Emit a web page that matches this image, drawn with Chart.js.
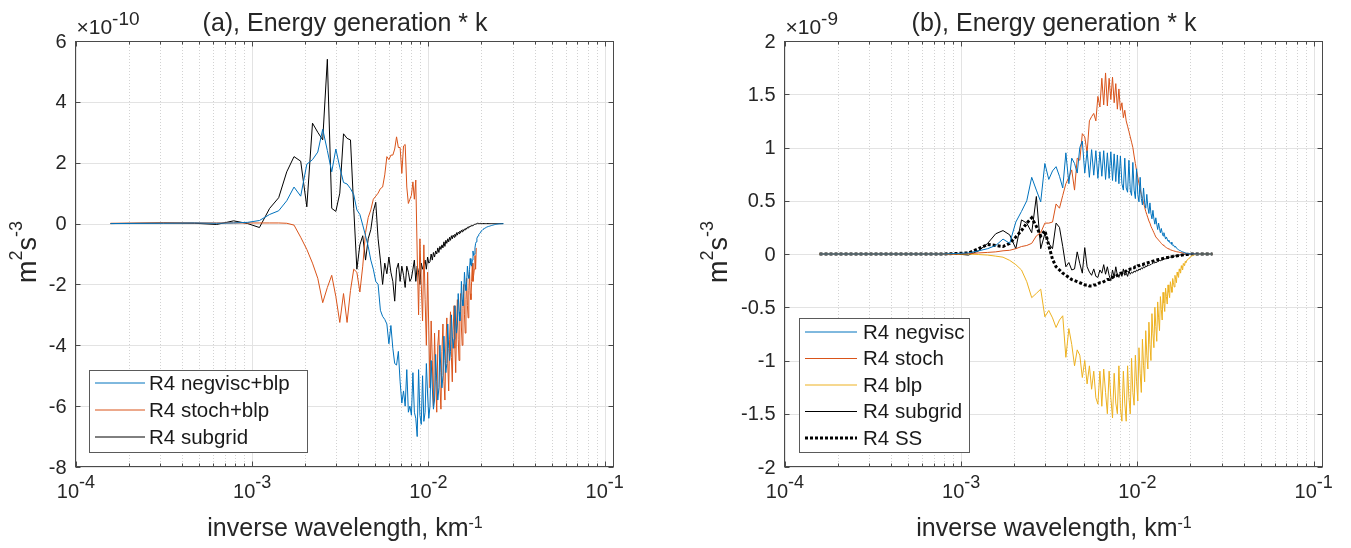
<!DOCTYPE html>
<html lang="en">
<head>
<meta charset="UTF-8">
<title>Energy generation * k</title>
<script src="https://cdn.jsdelivr.net/npm/chart.js"></script>
<style>
  body { margin: 0; background: #fff; }
  #wrap { position: relative; width: 1351px; height: 548px; }
  canvas { position: absolute; top: 0; }
</style>
</head>
<body>
<div id="wrap">
  <canvas id="chartA" width="690" height="548" style="left:0"></canvas>
  <canvas id="chartB" width="661" height="548" style="left:690px"></canvas>
</div>
<script>
// inverse wavelength of each spectral bin, in units of 1e-4 km^-1
const wavenumber = [
  1.57, 3.14, 4.71, 6.28, 7.85, 9.42, 10.99, 12.56, 14.13, 15.70,
  17.27, 18.84, 20.41, 21.98, 23.55, 25.12, 26.69, 28.26, 29.83, 31.40,
  32.97, 34.54, 36.11, 37.68, 39.25, 40.82, 42.39, 43.96, 45.53, 47.10,
  48.67, 50.24, 51.81, 53.38, 54.95, 56.52, 58.09, 59.66, 61.23, 62.80,
  64.37, 65.94, 67.51, 69.08, 70.65, 72.22, 73.79, 75.36, 76.93, 78.50,
  80.07, 81.64, 83.21, 84.78, 86.35, 87.92, 89.49, 91.06, 92.63, 94.20,
  95.77, 97.34, 98.91, 100.48, 102.05, 103.62, 105.19, 106.76, 108.33, 109.90,
  111.47, 113.04, 114.61, 116.18, 117.75, 119.32, 120.89, 122.46, 124.03, 125.60,
  127.17, 128.74, 130.31, 131.88, 133.45, 135.02, 136.59, 138.16, 139.73, 141.30,
  142.87, 144.44, 146.01, 147.58, 149.15, 150.72, 152.29, 153.86, 155.43, 157.00,
  158.57, 160.14, 161.71, 163.28, 164.85, 166.42, 167.99, 169.56, 171.13, 172.70,
  174.27, 175.84, 177.41, 178.98, 180.55, 182.12, 183.69, 185.26, 186.83, 188.40,
  189.97, 191.54, 193.11, 194.68, 196.25, 197.82, 199.39, 200.96, 202.53, 204.10,
  205.67, 207.24, 208.81, 210.38, 211.95, 213.52, 215.09, 216.66, 218.23, 219.80,
  221.37, 222.94, 224.51, 226.08, 227.65, 229.22, 230.79, 232.36, 233.93, 235.50,
  237.07, 238.64, 240.21, 241.78, 243.35, 244.92, 246.49, 248.06, 249.63, 251.20,
  252.77, 254.34, 255.91, 257.48, 259.05, 260.62, 262.19, 263.76, 265.33, 266.90
];

// (a) values in units of 1e-10 m^2 s^-3
const negviscBlpA = [
  0.00, 0.01, 0.02, 0.01, 0.02, 0.04, 0.10, 0.30, 0.42, 0.75,
  1.20, 0.90, 1.95, 2.10, 2.35, 3.10, 2.40, 1.70, 2.45, 1.85,
  1.35, 1.30, 1.15, 0.95, 0.45, 0.30, -0.05, -0.40, -0.75, -1.20,
  -1.50, -1.90, -2.00, -2.85, -3.05, -3.15, -3.30, -3.95, -3.35, -4.10,
  -4.60, -4.65, -4.20, -5.20, -5.90, -5.50, -6.00, -4.80, -6.20, -6.00,
  -6.30, -4.90, -6.20, -6.40, -7.00, -4.80, -6.30, -6.60, -5.00, -6.50,
  -6.20, -4.60, -5.60, -6.40, -6.00, -4.50, -5.40, -6.10, -5.80, -4.30,
  -5.20, -5.80, -5.40, -4.00, -4.90, -5.40, -5.00, -3.70, -4.50, -4.90,
  -4.60, -3.30, -4.10, -4.50, -4.20, -3.00, -3.70, -4.10, -3.80, -2.70,
  -3.30, -3.60, -3.30, -2.30, -2.90, -3.20, -2.90, -1.90, -2.50, -2.70,
  -2.30, -1.60, -2.00, -2.20, -1.90, -1.40, -1.70, -1.80, -1.50, -1.15,
  -1.35, -1.40, -1.20, -0.90, -1.05, -1.00, -0.80, -0.65, -0.60, -0.48,
  -0.44, -0.40, -0.36, -0.33, -0.30, -0.27, -0.25, -0.23, -0.21, -0.19,
  -0.17, -0.16, -0.15, -0.14, -0.13, -0.12, -0.11, -0.10, -0.095, -0.09,
  -0.085, -0.08, -0.075, -0.07, -0.065, -0.06, -0.055, -0.05, -0.045, -0.04,
  -0.036, -0.033, -0.03, -0.027, -0.024, -0.021, -0.018, -0.016, -0.014, -0.012,
  -0.01, -0.009, -0.008, -0.007, -0.006, -0.005, -0.004, -0.003, -0.002, -0.001
];
const stochBlpA = [
  0.01, 0.02, 0.02, 0.02, 0.02, 0.02, 0.02, 0.02, 0.02, 0.01,
  -0.05, -0.45, -0.85, -1.30, -1.80, -2.60, -2.10, -1.70, -2.40, -3.25,
  -2.30, -3.25, -2.20, -1.50, -1.60, -2.25, -1.40, -0.30, 0.20, 0.45,
  0.80, 0.90, 1.00, 1.15, 1.20, 1.60, 2.20, 2.10, 2.25, 2.25,
  2.45, 2.85, 2.50, 2.50, 1.65, 2.55, 2.60, 1.20, 0.66, 0.80,
  0.93, 1.37, 0.80, 1.43, -1.00, -3.00, -0.50, -2.00, -3.20, -0.70,
  -2.50, -4.00, -1.60, -3.50, -5.40, -3.20, -4.50, -6.00, -3.60, -5.00,
  -6.20, -4.00, -3.50, -5.30, -6.10, -4.20, -3.30, -5.20, -5.80, -4.00,
  -3.10, -4.60, -5.50, -3.80, -2.90, -4.40, -5.20, -3.50, -2.70, -4.10,
  -4.90, -3.30, -2.50, -3.80, -4.50, -3.00, -2.30, -3.40, -4.00, -2.80,
  -2.00, -3.00, -3.60, -2.50, -1.80, -2.70, -3.10, -2.20, -1.60, -2.30,
  -2.50, -1.90, -1.30, -1.90, -1.70, -1.50, -1.05, -1.50, -0.80
];
const subgridA = [
  0.00, 0.02, 0.01, -0.03, 0.09, 0.00, -0.13, 0.50, 0.85, 1.70,
  2.20, 2.05, 0.55, 3.30, 3.00, 2.75, 5.40, 0.50, 0.40, 1.00,
  2.95, 2.80, 2.75, 0.50, -1.50, -0.70, -0.40, -1.20, -0.50, -0.20,
  0.40, 0.70, -0.50, -1.20, -2.00, -1.30, -1.65, -1.10, -1.60, -1.90,
  -2.55, -1.50, -1.30, -1.90, -1.40, -1.70, -2.10, -1.40, -1.60, -1.90,
  -1.80, -1.50, -1.20, -1.90, -1.40, -1.60, -2.00, -1.30, -1.50, -1.35,
  -1.20, -1.50, -1.10, -1.30, -1.25, -1.00, -1.20, -0.95, -1.10, -0.90,
  -1.00, -0.80, -0.95, -0.75, -0.85, -0.70, -0.80, -0.60, -0.75, -0.55,
  -0.65, -0.50, -0.60, -0.45, -0.55, -0.40, -0.50, -0.38, -0.45, -0.35,
  -0.42, -0.30, -0.38, -0.28, -0.33, -0.25, -0.30, -0.22, -0.27, -0.20,
  -0.24, -0.18, -0.20, -0.15, -0.18, -0.12, -0.14, -0.10, -0.11, -0.08,
  -0.09, -0.06, -0.07, -0.05, -0.05, -0.03, -0.03, -0.02, -0.01, 0.00,
  0.01, 0.00, 0.01, 0.00, 0.00, 0.01, 0.00, 0.00, 0.00, 0.00,
  0, 0, 0, 0, 0, 0, 0, 0, 0, 0,
  0, 0, 0, 0, 0, 0, 0, 0, 0, 0,
  0, 0, 0, 0, 0, 0, 0, 0, 0, 0,
  0, 0, 0, 0, 0, 0, 0, 0, 0, 0
];

// (b) values in units of 1e-9 m^2 s^-3
const negviscB = [
  0, 0, 0, 0, 0, 0.005, 0.01, 0.03, 0.05, 0.08,
  0.14, 0.10, 0.30, 0.40, 0.50, 0.72, 0.60, 0.49, 0.85, 0.70,
  0.78, 0.82, 0.73, 0.62, 0.95, 0.66, 0.90, 0.85, 0.76, 1.00,
  1.06, 0.76, 0.97, 0.72, 0.98, 0.74, 0.97, 0.71, 0.96, 0.73,
  0.97, 0.70, 0.95, 0.71, 0.96, 0.69, 0.94, 0.68, 0.93, 0.66,
  0.92, 0.66, 0.60, 0.90, 0.62, 0.58, 0.88, 0.60, 0.55, 0.86,
  0.60, 0.52, 0.80, 0.56, 0.49, 0.72, 0.52, 0.46, 0.62, 0.48,
  0.43, 0.56, 0.44, 0.38, 0.48, 0.38, 0.33, 0.41, 0.33, 0.28,
  0.34, 0.28, 0.23, 0.29, 0.24, 0.20, 0.24, 0.20, 0.17, 0.20,
  0.17, 0.14, 0.16, 0.14, 0.12, 0.13, 0.11, 0.10, 0.11, 0.09,
  0.08, 0.085, 0.07, 0.065, 0.07, 0.055, 0.05, 0.05, 0.04, 0.035,
  0.035, 0.03, 0.025, 0.025, 0.02, 0.018, 0.015, 0.013, 0.01, 0.008,
  0.007, 0.006, 0.005, 0.004, 0.003, 0.003, 0.002, 0.002, 0.001, 0.001,
  0, 0, 0, 0, 0, 0, 0, 0, 0, 0,
  0, 0, 0, 0, 0, 0, 0, 0, 0, 0,
  0, 0, 0, 0, 0, 0, 0, 0, 0, 0,
  0, 0, 0, 0, 0, 0, 0, 0, 0, 0
];
const stochB = [
  0, 0, 0, 0, 0, 0, 0.005, 0.01, 0.015, 0.02,
  0.03, 0.035, 0.05, 0.07, 0.08, 0.10, 0.17, 0.20, 0.29, 0.29,
  0.30, 0.47, 0.43, 0.55, 0.66, 0.72, 0.79, 0.60, 0.90, 0.88,
  1.13, 1.10, 0.95, 1.25, 1.29, 1.32, 1.25, 1.48, 1.38, 1.65,
  1.40, 1.70, 1.39, 1.65, 1.45, 1.66, 1.42, 1.60, 1.36, 1.55,
  1.35, 1.42, 1.28, 1.35, 1.25, 1.20, 1.15, 1.10, 1.05, 1.00,
  0.92, 0.85, 0.78, 0.72, 0.66, 0.61, 0.56, 0.52, 0.48, 0.44,
  0.40, 0.37, 0.34, 0.31, 0.29, 0.26, 0.24, 0.22, 0.20, 0.18,
  0.16, 0.15, 0.14, 0.13, 0.12, 0.11, 0.10, 0.09, 0.085, 0.08,
  0.07, 0.065, 0.06, 0.055, 0.05, 0.047, 0.044, 0.04, 0.037, 0.035,
  0.032, 0.03, 0.028, 0.026, 0.024, 0.022, 0.02, 0.019, 0.018, 0.017,
  0.015, 0.014, 0.013, 0.012, 0.011, 0.01, 0.009, 0.008, 0.007, 0.006,
  0.005, 0.005, 0.004, 0.004, 0.003, 0.003, 0.002, 0.002, 0.001, 0.001,
  0, 0, 0, 0, 0, 0, 0, 0, 0, 0,
  0, 0, 0, 0, 0, 0, 0, 0, 0, 0,
  0, 0, 0, 0, 0, 0, 0, 0, 0, 0,
  0, 0, 0, 0, 0, 0, 0, 0, 0, 0
];
const blpB = [
  0, 0, 0, 0, 0, 0, 0, -0.005, -0.01, -0.02,
  -0.03, -0.06, -0.10, -0.15, -0.26, -0.41, -0.37, -0.33, -0.59, -0.53,
  -0.60, -0.69, -0.62, -0.58, -0.97, -0.70, -0.85, -1.05, -0.90, -0.95,
  -1.16, -1.00, -1.22, -1.05, -1.27, -1.10, -1.35, -1.41, -1.10, -1.43,
  -1.08, -1.30, -1.50, -1.10, -1.35, -1.54, -1.12, -1.40, -1.50, -1.05,
  -1.45, -1.57, -1.10, -1.40, -1.57, -1.05, -1.35, -1.50, -0.98, -1.30,
  -1.42, -0.95, -1.20, -1.38, -0.88, -1.12, -1.30, -0.80, -1.05, -1.20,
  -0.72, -0.95, -1.08, -0.64, -0.85, -1.00, -0.56, -0.75, -0.88, -0.50,
  -0.68, -0.82, -0.45, -0.60, -0.72, -0.40, -0.52, -0.62, -0.36, -0.46,
  -0.54, -0.32, -0.40, -0.47, -0.29, -0.36, -0.41, -0.26, -0.31, -0.36,
  -0.23, -0.27, -0.31, -0.20, -0.24, -0.27, -0.17, -0.20, -0.22, -0.14,
  -0.16, -0.18, -0.11, -0.13, -0.15, -0.09, -0.10, -0.11, -0.07, -0.08,
  -0.065, -0.055, -0.05, -0.045, -0.04, -0.033, -0.028, -0.023, -0.02, -0.016,
  -0.013, -0.011, -0.009, -0.007, -0.006, -0.005, -0.004, -0.003, -0.002, -0.001,
  0, 0, 0, 0, 0, 0, 0, 0, 0, 0,
  0, 0, 0, 0, 0, 0, 0, 0, 0, 0,
  0, 0, 0, 0, 0, 0, 0, 0, 0, 0
];
const subgridB = [
  0, 0, 0, 0, 0, 0, -0.01, 0.03, 0.10, 0.19,
  0.22, 0.18, 0.05, 0.32, 0.29, 0.20, 0.54, 0.05, 0.19, 0.10,
  0.05, 0.29, 0.25, 0.07, -0.12, -0.08, -0.15, -0.14, 0.02, -0.09,
  -0.18, 0.06, -0.12, -0.17, -0.20, -0.14, -0.21, -0.22, -0.15, -0.18,
  -0.10, -0.19, -0.12, -0.20, -0.25, -0.15, -0.22, -0.12, -0.20, -0.22,
  -0.17, -0.21, -0.14, -0.20, -0.18, -0.21, -0.16, -0.19, -0.17, -0.18,
  -0.16, -0.17, -0.15, -0.16, -0.14, -0.15, -0.13, -0.14, -0.12, -0.13,
  -0.11, -0.12, -0.10, -0.11, -0.10, -0.10, -0.09, -0.09, -0.08, -0.085,
  -0.075, -0.08, -0.07, -0.07, -0.06, -0.065, -0.055, -0.06, -0.05, -0.05,
  -0.045, -0.045, -0.04, -0.04, -0.035, -0.035, -0.03, -0.03, -0.028, -0.025,
  -0.022, -0.022, -0.02, -0.018, -0.016, -0.015, -0.013, -0.012, -0.011, -0.01,
  -0.009, -0.008, -0.007, -0.006, -0.005, -0.004, -0.004, -0.003, -0.002, -0.002,
  0, 0, 0, 0, 0, 0, 0, 0, 0, 0,
  0, 0, 0, 0, 0, 0, 0, 0, 0, 0,
  0, 0, 0, 0, 0, 0, 0, 0, 0, 0,
  0, 0, 0, 0, 0, 0, 0, 0, 0, 0,
  0, 0, 0, 0, 0, 0, 0, 0, 0, 0
];
const ssB = [
  0, 0, 0, 0, 0, 0.005, 0.01, 0.05, 0.09, 0.08,
  0.07, 0.10, 0.16, 0.22, 0.29, 0.34, 0.26, 0.17, 0.22, 0.08,
  -0.05, -0.12, -0.15, -0.18, -0.20, -0.22, -0.24, -0.25, -0.26, -0.27,
  -0.28, -0.29, -0.29, -0.30, -0.30, -0.29, -0.29, -0.28, -0.27, -0.27,
  -0.26, -0.25, -0.24, -0.24, -0.23, -0.22, -0.21, -0.21, -0.20, -0.19,
  -0.18, -0.18, -0.17, -0.17, -0.16, -0.15, -0.15, -0.14, -0.14, -0.13,
  -0.13, -0.12, -0.12, -0.11, -0.11, -0.105, -0.10, -0.10, -0.095, -0.09,
  -0.088, -0.085, -0.082, -0.079, -0.076, -0.073, -0.07, -0.067, -0.064, -0.061,
  -0.058, -0.056, -0.054, -0.052, -0.05, -0.048, -0.046, -0.044, -0.042, -0.04,
  -0.038, -0.036, -0.035, -0.033, -0.032, -0.03, -0.029, -0.028, -0.026, -0.025,
  -0.024, -0.022, -0.021, -0.02, -0.019, -0.018, -0.017, -0.016, -0.015, -0.014,
  -0.013, -0.012, -0.011, -0.01, -0.009, -0.008, -0.007, -0.006, -0.005, -0.005,
  -0.004, -0.004, -0.003, -0.003, -0.002, -0.002, -0.001, -0.001, 0, 0,
  0, 0, 0, 0, 0, 0, 0, 0, 0, 0,
  0, 0, 0, 0, 0, 0, 0, 0, 0, 0,
  0, 0, 0, 0, 0, 0, 0, 0, 0, 0,
  0, 0, 0, 0, 0, 0, 0, 0, 0, 0
];

const yTicksA = [-8, -6, -4, -2, 0, 2, 4, 6];
const yTicksB = [-2, -1.5, -1, -0.5, 0, 0.5, 1, 1.5, 2];
const xDecades = [-4, -3, -2, -1];
const seriesNamesA = ['R4 negvisc+blp', 'R4 stoch+blp', 'R4 subgrid'];
const seriesNamesB = ['R4 negvisc', 'R4 stoch', 'R4 blp', 'R4 subgrid', 'R4 SS'];

const FONT = '"Liberation Sans", Helvetica, Arial, sans-serif';
const TEXT = '#262626';
const X_MAX = 0.113;

// minor tick positions of the log axis: 2..9 x each decade
const minorX = [];
xDecades.slice(0, -1).forEach(e => {
  for (let m = 2; m <= 9; m++) minorX.push(m * Math.pow(10, e));
});

function pts(vals) {
  return vals.map((v, i) => ({ x: wavenumber[i] * 1e-4, y: v }));
}

function line(ctx, x1, y1, x2, y2) {
  ctx.beginPath(); ctx.moveTo(x1, y1); ctx.lineTo(x2, y2); ctx.stroke();
}

// text made of plain and raised (superscript) pieces
function richText(ctx, segs, x, y, size, esize, rise, anchor) {
  let w = 0;
  const widths = segs.map(s => {
    ctx.font = (s.sup ? esize : size) + 'px ' + FONT;
    const m = ctx.measureText(s.t).width;
    w += m;
    return m;
  });
  let cx = anchor === 'center' ? x - w / 2 : x;
  ctx.textAlign = 'left';
  ctx.textBaseline = 'alphabetic';
  segs.forEach((s, i) => {
    ctx.font = (s.sup ? esize : size) + 'px ' + FONT;
    ctx.fillText(s.t, cx, s.sup ? y - rise : y);
    cx += widths[i];
  });
}

function axesDecor(cfg) {
  return {
    id: 'axesDecor',
    beforeDatasetsDraw(chart) {
      const { ctx, chartArea: a, scales: { x, y } } = chart;
      ctx.save();
      ctx.lineWidth = 1;
      ctx.strokeStyle = '#e3e3e3';
      cfg.yTicks.forEach(v => {
        const py = Math.round(y.getPixelForValue(v)) + 0.5;
        line(ctx, a.left, py, a.right, py);
      });
      ctx.strokeStyle = '#d2d2d2';
      ctx.setLineDash([1, 2]);
      minorX.forEach(v => {
        const px = Math.round(x.getPixelForValue(v)) + 0.5;
        line(ctx, px, a.top, px, a.bottom);
      });
      ctx.setLineDash([]);
      ctx.strokeStyle = '#e3e3e3';
      xDecades.forEach(e => {
        const px = Math.round(x.getPixelForValue(Math.pow(10, e))) + 0.5;
        line(ctx, px, a.top, px, a.bottom);
      });
      ctx.restore();
    },
    afterDraw(chart) {
      const { ctx, chartArea: a, scales: { x, y } } = chart;
      const L = Math.round(a.left) - 0.5, R = Math.round(a.right) - 0.5;
      const T = Math.round(a.top) + 0.5, B = Math.round(a.bottom) - 0.5;
      ctx.save();

      // box and tick marks
      ctx.strokeStyle = '#4a4a4a';
      ctx.lineWidth = 1;
      ctx.strokeRect(L, T, R - L, B - T);
      xDecades.forEach(e => {
        const px = Math.round(x.getPixelForValue(Math.pow(10, e))) + 0.5;
        line(ctx, px, B, px, B - 5); line(ctx, px, T, px, T + 5);
      });
      minorX.forEach(v => {
        const px = Math.round(x.getPixelForValue(v)) + 0.5;
        line(ctx, px, B, px, B - 3); line(ctx, px, T, px, T + 3);
      });
      cfg.yTicks.forEach(v => {
        const py = Math.round(y.getPixelForValue(v)) + 0.5;
        line(ctx, L, py, L + 5, py); line(ctx, R, py, R - 5, py);
      });

      // tick labels
      ctx.fillStyle = TEXT;
      ctx.font = '20px ' + FONT;
      ctx.textAlign = 'right';
      ctx.textBaseline = 'middle';
      cfg.yTicks.forEach(v => {
        ctx.fillText(String(v), L - 9, y.getPixelForValue(v) + 1);
      });
      xDecades.forEach(e => {
        const px = x.getPixelForValue(Math.pow(10, e));
        richText(ctx, [{ t: '10' }, { t: String(e), sup: true }], px, B + 31, 20, 18, 10, 'center');
      });

      // exponent of the y axis
      richText(ctx, [{ t: '\u00d710' }, { t: cfg.yExp, sup: true }], L + 1, 34, 21, 19, 9, 'left');

      // title
      ctx.font = '25px ' + FONT;
      ctx.textAlign = 'center';
      ctx.textBaseline = 'alphabetic';
      ctx.fillText(cfg.title, (a.left + a.right) / 2, 31);

      // axis labels
      richText(ctx, [{ t: 'inverse wavelength, km' }, { t: '-1', sup: true }],
        (a.left + a.right) / 2, 536, 25, 16, 8, 'center');
      ctx.save();
      ctx.translate(cfg.yLabelX, (a.top + a.bottom) / 2 - 2);
      ctx.rotate(-Math.PI / 2);
      richText(ctx, [{ t: 'm' }, { t: '2', sup: true }, { t: 's' }, { t: '-3', sup: true }],
        0, 0, 27, 18, 14, 'center');
      ctx.restore();

      // legend
      const g = cfg.legend;
      ctx.fillStyle = '#fff';
      ctx.fillRect(g.x, g.y, g.w, g.h);
      ctx.strokeStyle = '#5a5a5a';
      ctx.lineWidth = 1;
      ctx.strokeRect(g.x + 0.5, g.y + 0.5, g.w, g.h);
      chart.data.datasets.forEach((ds, i) => {
        const ry = g.rows[i];
        ctx.strokeStyle = ds.borderColor;
        ctx.lineWidth = ds.borderWidth;
        ctx.setLineDash(ds.borderDash || []);
        line(ctx, g.s0, ry, g.s1, ry);
        ctx.setLineDash([]);
        ctx.fillStyle = '#1a1a1a';
        ctx.font = '20.5px ' + FONT;
        ctx.textAlign = 'left';
        ctx.textBaseline = 'middle';
        ctx.fillText(ds.label, g.tx, ry + 1);
      });
      ctx.restore();
    }
  };
}

function makeChart(id, datasets, cfg) {
  return new Chart(document.getElementById(id), {
    type: 'line',
    data: { datasets },
    options: {
      responsive: false,
      animation: false,
      devicePixelRatio: 1,
      parsing: false,
      layout: { padding: cfg.pad },
      elements: { point: { radius: 0 }, line: { tension: 0 } },
      plugins: { legend: { display: false }, tooltip: { enabled: false }, title: { display: false } },
      scales: {
        x: {
          type: 'logarithmic', min: 1e-4, max: X_MAX,
          ticks: { display: false }, grid: { display: false }, border: { display: false },
          afterFit: s => { s.height = 0; }
        },
        y: {
          type: 'linear', min: cfg.yMin, max: cfg.yMax,
          ticks: { display: false }, grid: { display: false }, border: { display: false },
          afterFit: s => { s.width = 0; }
        }
      }
    },
    plugins: [axesDecor(cfg)]
  });
}

makeChart('chartA', [
  { label: seriesNamesA[0], data: pts(negviscBlpA), borderColor: '#0072BD', borderWidth: 1 },
  { label: seriesNamesA[1], data: pts(stochBlpA), borderColor: '#D95319', borderWidth: 1 },
  { label: seriesNamesA[2], data: pts(subgridA), borderColor: '#000000', borderWidth: 1 }
], {
  title: '(a), Energy generation * k', yExp: '-10', yMin: -8, yMax: 6, yTicks: yTicksA,
  pad: { left: 76, top: 41, right: 76, bottom: 81 }, yLabelX: 36,
  legend: { x: 89, y: 370, w: 218, h: 82, rows: [383, 410, 437], s0: 95, s1: 145, tx: 149 }
});

makeChart('chartB', [
  { label: seriesNamesB[0], data: pts(negviscB), borderColor: '#0072BD', borderWidth: 1 },
  { label: seriesNamesB[1], data: pts(stochB), borderColor: '#D95319', borderWidth: 1 },
  { label: seriesNamesB[2], data: pts(blpB), borderColor: '#EDB120', borderWidth: 1 },
  { label: seriesNamesB[3], data: pts(subgridB), borderColor: '#000000', borderWidth: 1 },
  { label: seriesNamesB[4], data: pts(ssB), borderColor: '#000000', borderWidth: 3, borderDash: [3, 2] }
], {
  title: '(b), Energy generation * k', yExp: '-9', yMin: -2, yMax: 2, yTicks: yTicksB,
  pad: { left: 95, top: 41, right: 28, bottom: 81 }, yLabelX: 37,
  legend: { x: 109, y: 318, w: 170, h: 134, rows: [332, 358.5, 385, 411.5, 438], s0: 115, s1: 167, tx: 173 }
});
</script>
</body>
</html>
